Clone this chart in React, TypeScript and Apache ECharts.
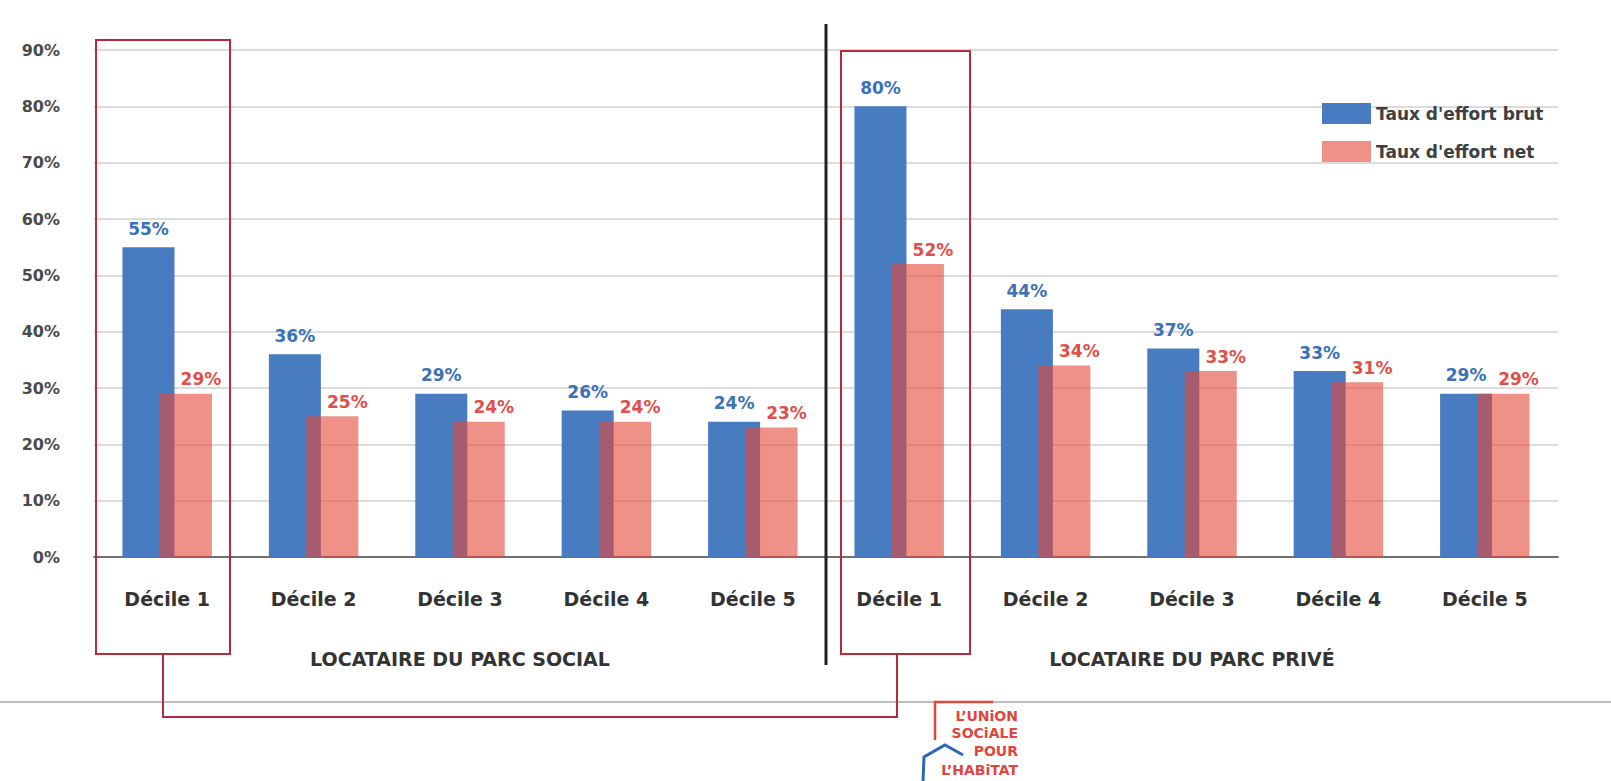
import React, { useEffect, useRef } from "react";
import * as echarts from "echarts";

const categories = [
  "Décile 1", "Décile 2", "Décile 3", "Décile 4", "Décile 5",
  "Décile 1 ", "Décile 2 ", "Décile 3 ", "Décile 4 ", "Décile 5 ",
];
const groups = ["LOCATAIRE DU PARC SOCIAL", "LOCATAIRE DU PARC PRIVÉ"];
const brut = [55, 36, 29, 26, 24, 80, 44, 37, 33, 29];
const net = [29, 25, 24, 24, 23, 52, 34, 33, 31, 29];
const seriesNames = ["Taux d'effort brut", "Taux d'effort net"];

const BLUE = "#487cc0";
const PINK = "rgba(230,72,55,0.6)";
const RED = "#b82a3c";
const LOGO_RED = "#e0463e";
const FONT = "DejaVu Sans";

export default function App() {
  const ref = useRef<HTMLDivElement>(null);
  useEffect(() => {
    document.body.style.margin = "0";
    const chart = echarts.init(ref.current!, null, { renderer: "svg" });
    const logoText = (text: string, y: number) => ({
      type: "text",
      x: 1018,
      y,
      style: {
        text,
        align: "right",
        verticalAlign: "middle",
        fontSize: 14,
        fontWeight: "bold",
        fill: LOGO_RED,
        fontFamily: FONT,
      },
      z: 11,
    });
    chart.setOption({
      animation: false,
      backgroundColor: "#ffffff",
      textStyle: { fontFamily: FONT },
      grid: { left: 94, right: 53, top: 50, bottom: 224, containLabel: false },
      legend: {
        orient: "vertical",
        left: 1322,
        top: 103,
        padding: 0,
        itemWidth: 49,
        itemHeight: 21,
        itemGap: 17,
        icon: "rect",
        textStyle: { fontSize: 17, fontWeight: "bold", color: "#404040", fontFamily: FONT },
        data: seriesNames,
      },
      xAxis: [
        {
          type: "category",
          data: categories,
          axisLine: { lineStyle: { color: "#707070", width: 2 } },
          axisTick: { show: false },
          axisLabel: {
            margin: 32,
            fontSize: 19,
            fontWeight: "bold",
            color: "#333",
            fontFamily: FONT,
            formatter: (v: string) => v.trim(),
          },
        },
        {
          type: "category",
          position: "bottom",
          data: groups,
          axisLine: { show: false },
          axisTick: { show: false },
          axisLabel: {
            margin: 92,
            fontSize: 19,
            fontWeight: "bold",
            color: "#333",
            fontFamily: FONT,
          },
        },
      ],
      yAxis: {
        type: "value",
        min: 0,
        max: 90,
        interval: 10,
        axisLine: { show: false },
        axisTick: { show: false },
        axisLabel: {
          formatter: "{value}%",
          margin: 34,
          fontSize: 16,
          fontWeight: "bold",
          color: "#4a4a4a",
          fontFamily: FONT,
        },
        splitLine: { lineStyle: { color: "#dcdcdc", width: 2 } },
      },
      series: [
        {
          name: seriesNames[0],
          type: "bar",
          data: brut,
          barWidth: 52,
          barGap: "-28%",
          itemStyle: { color: BLUE },
          label: {
            show: true,
            position: "top",
            distance: 10,
            formatter: "{c}%",
            fontSize: 17,
            fontWeight: "bold",
            color: "#3b72b5",
            fontFamily: FONT,
          },
        },
        {
          name: seriesNames[1],
          type: "bar",
          data: net,
          barWidth: 52,
          barGap: "-28%",
          itemStyle: { color: PINK },
          label: {
            show: true,
            position: "top",
            distance: 6,
            offset: [15, 0],
            formatter: "{c}%",
            fontSize: 17,
            fontWeight: "bold",
            color: "#e0504a",
            fontFamily: FONT,
          },
        },
      ],
      graphic: [
        {
          type: "line",
          shape: { x1: 0, y1: 702, x2: 1611, y2: 702 },
          style: { stroke: "#bdbdbd", lineWidth: 2 },
          z: 1,
        },
        {
          type: "line",
          shape: { x1: 826, y1: 24, x2: 826, y2: 665 },
          style: { stroke: "#222", lineWidth: 3 },
          z: 10,
        },
        {
          type: "rect",
          shape: { x: 96, y: 40, width: 134, height: 614 },
          style: { fill: "none", stroke: RED, lineWidth: 2 },
          z: 10,
        },
        {
          type: "rect",
          shape: { x: 841, y: 51, width: 129, height: 603 },
          style: { fill: "none", stroke: RED, lineWidth: 2 },
          z: 10,
        },
        {
          type: "polyline",
          shape: { points: [[163, 654], [163, 717], [897, 717], [897, 654]] },
          style: { fill: "none", stroke: RED, lineWidth: 2 },
          z: 10,
        },
        {
          type: "polyline",
          shape: { points: [[993, 702], [935, 702], [935, 740]] },
          style: { fill: "none", stroke: LOGO_RED, lineWidth: 2.5 },
          z: 11,
        },
        {
          type: "polyline",
          shape: { points: [[923, 781], [924, 757], [945, 745], [963, 755]] },
          style: { fill: "none", stroke: "#2a6ab8", lineWidth: 3 },
          z: 11,
        },
        logoText("L’UNiON", 716),
        logoText("SOCiALE", 733),
        logoText("POUR", 751),
        logoText("L’HABiTAT", 770),
      ],
    });
    return () => chart.dispose();
  }, []);
  return <div ref={ref} style={{ width: 1611, height: 781 }} />;
}
